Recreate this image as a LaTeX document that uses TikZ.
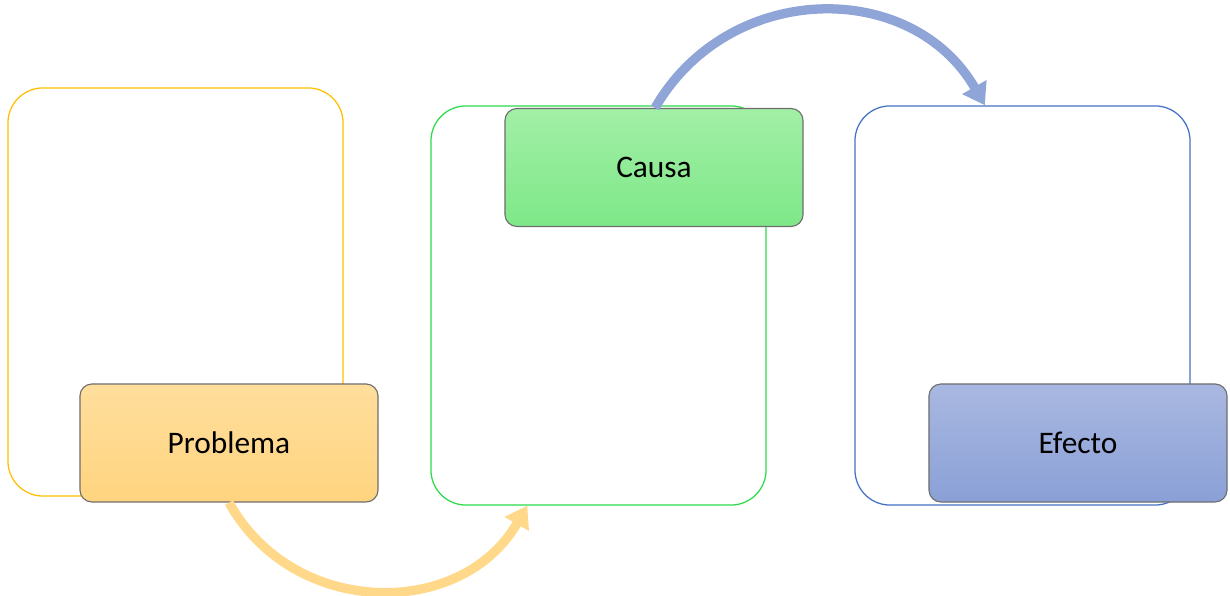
\documentclass[tikz,border=0pt]{standalone}
\usepackage{fontspec}
\setmainfont{Carlito}
\usetikzlibrary{arrows.meta}
\definecolor{ybord}{HTML}{FFC000}
\definecolor{gbord}{HTML}{2EDB4A}
\definecolor{bbord}{HTML}{4472C4}
\definecolor{ytop}{HTML}{FFDE9C}
\definecolor{ybot}{HTML}{FFD480}
\definecolor{gtop}{HTML}{A2EFA6}
\definecolor{gbot}{HTML}{7EE888}
\definecolor{btop}{HTML}{A9B8E1}
\definecolor{bbot}{HTML}{8AA0D6}
\definecolor{yarrow}{HTML}{FFD88A}
\definecolor{barrow}{HTML}{8FA5D8}
\definecolor{sbord}{HTML}{6E6E6E}
\begin{document}
\begin{tikzpicture}[x=0.025cm,y=0.025cm,
  bigbox/.style={draw, line width=0.9pt, rounded corners=0.875cm, fill=white, inner sep=0pt},
  smallbox/.style={draw=sbord, line width=0.8pt, rounded corners=0.3cm, minimum width=7.45cm, minimum height=2.95cm, inner sep=0pt, font=\fontsize{22.3}{26}\selectfont},
  flowarrow/.style={line width=6.6pt, -{Triangle[length=15pt,width=19pt]}}
]
\useasboundingbox (0,0) rectangle (1230,596);
% big frames
\node[bigbox, draw=ybord, minimum width=8.375cm, minimum height=10.2cm] (fy) at (175.5,304) {};
\node[bigbox, draw=gbord, minimum width=8.375cm, minimum height=9.975cm] (fg) at (598.5,290.5) {};
\node[bigbox, draw=bbord, minimum width=8.375cm, minimum height=9.975cm] (fb) at (1022.5,290.5) {};
% small boxes
\node[smallbox, top color=ytop, bottom color=ybot] (prob) at (229,153) {Problema};
\node[smallbox, top color=gtop, bottom color=gbot] (causa) at (654,428.5) {Causa};
\node[smallbox, top color=btop, bottom color=bbot] (efecto) at (1078,153) {Efecto};
% arrow ends
\coordinate (yend) at ([xshift=-1.78cm]fg.south);
\coordinate (bstart) at ([xshift=0.025cm]causa.north);
\coordinate (bend) at ([xshift=-0.94cm]fb.north);
% arrows
\draw[flowarrow, draw=yarrow, color=yarrow] (prob.south) .. controls +(-61:132) and +(-120:132) .. (yend);
\draw[flowarrow, draw=barrow, color=barrow] (bstart) .. controls +(60:147) and +(120:147) .. (bend);
\end{tikzpicture}
\end{document}
